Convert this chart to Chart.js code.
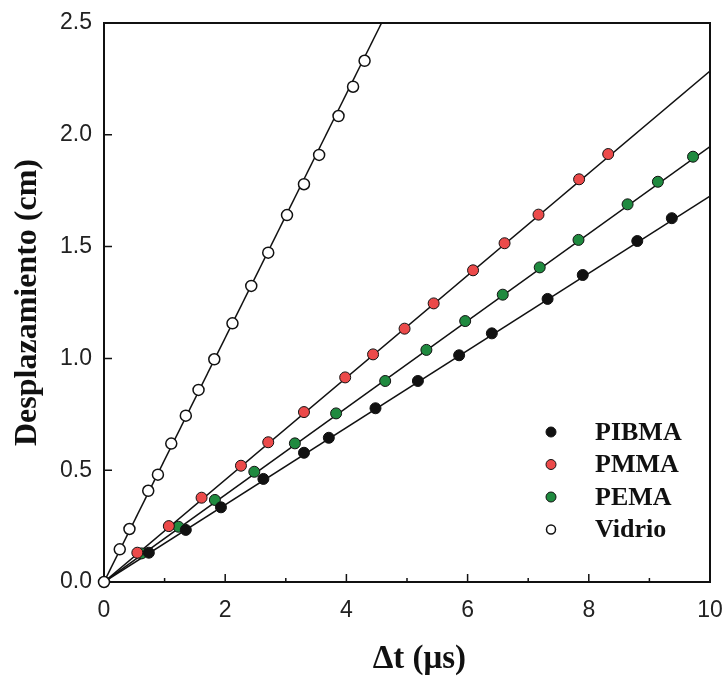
<!DOCTYPE html>
<html>
<head>
<meta charset="utf-8">
<script src="https://cdn.jsdelivr.net/npm/chart.js@4.4.1/dist/chart.umd.min.js"></script>
<style>
  html, body { margin: 0; padding: 0; background: #fff; }
</style>
</head>
<body>
<canvas id="myChart" width="725" height="676"></canvas>
<script>
// values: delta t (us) vs displacement (cm)
var seriesNames = ['PIBMA', 'PMMA', 'PEMA', 'Vidrio'];

var pibmaX = [0.74, 1.35, 1.93, 2.63, 3.30, 3.71, 4.48, 5.18, 5.86, 6.40, 7.32, 7.90, 8.80, 9.37];
var pibmaY = [0.131, 0.233, 0.334, 0.461, 0.578, 0.645, 0.777, 0.899, 1.014, 1.112, 1.266, 1.373, 1.525, 1.627];

var pmmaX = [0.55, 1.07, 1.61, 2.26, 2.71, 3.30, 3.98, 4.44, 4.96, 5.44, 6.09, 6.61, 7.17, 7.84, 8.32];
var pmmaY = [0.131, 0.250, 0.377, 0.520, 0.625, 0.760, 0.915, 1.018, 1.133, 1.246, 1.394, 1.515, 1.643, 1.801, 1.914];

var pemaX = [0.62, 1.23, 1.83, 2.48, 3.15, 3.83, 4.64, 5.32, 5.96, 6.58, 7.19, 7.83, 8.64, 9.14, 9.72];
var pemaY = [0.128, 0.247, 0.367, 0.493, 0.620, 0.754, 0.899, 1.038, 1.167, 1.285, 1.407, 1.530, 1.689, 1.790, 1.902];

var vidrioX = [0, 0.26, 0.42, 0.73, 0.89, 1.11, 1.35, 1.56, 1.82, 2.12, 2.43, 2.71, 3.02, 3.30, 3.55, 3.87, 4.11, 4.30];
var vidrioY = [0, 0.146, 0.237, 0.408, 0.480, 0.619, 0.744, 0.859, 0.996, 1.157, 1.324, 1.473, 1.641, 1.779, 1.910, 2.084, 2.215, 2.331];

// fitted straight lines from the origin, end point of each (same order as seriesNames)
var fitEndX = [10, 10, 10, 4.58];
var fitEndY = [1.726, 2.285, 1.947, 2.5];

var fillColors = ['#111111', '#ec4a4a', '#1f8a3f', '#ffffff'];

function toPoints(xs, ys) {
  return xs.map(function(x, i) { return { x: x, y: ys[i] }; });
}

var pointSets = [
  toPoints(pibmaX, pibmaY),
  toPoints(pmmaX, pmmaY),
  toPoints(pemaX, pemaY),
  toPoints(vidrioX, vidrioY)
];

var datasets = [];
seriesNames.forEach(function(name, i) {
  datasets.push({
    label: name,
    data: pointSets[i],
    showLine: false,
    pointRadius: 5.5,
    pointHoverRadius: 5.5,
    pointBackgroundColor: fillColors[i],
    pointBorderColor: '#111',
    pointBorderWidth: i === 3 ? 1.5 : 1,
    clip: false,
    order: 0
  });
});
seriesNames.forEach(function(name, i) {
  datasets.push({
    label: name + ' fit',
    data: [{ x: 0, y: 0 }, { x: fitEndX[i], y: fitEndY[i] }],
    showLine: true,
    borderColor: '#111',
    borderWidth: 1.5,
    pointRadius: 0,
    clip: 0,
    order: 1
  });
});

// frame, inward tick marks and the boxed-in legend
var frameAndLegend = {
  id: 'frameAndLegend',
  beforeDatasetsDraw: function(chart) {
    var ctx = chart.ctx;
    var a = chart.chartArea;
    var xs = chart.scales.x, ys = chart.scales.y;
    ctx.save();
    ctx.strokeStyle = '#111';
    ctx.lineWidth = 1.5;
    ctx.beginPath();
    var xt = xs.ticks.map(function(t) { return t.value; });
    xt.forEach(function(v, i) {
      var px = xs.getPixelForValue(v);
      ctx.moveTo(px, a.bottom);
      ctx.lineTo(px, a.bottom - 8);
      if (i < xt.length - 1) {
        var mx = xs.getPixelForValue((v + xt[i + 1]) / 2);
        ctx.moveTo(mx, a.bottom);
        ctx.lineTo(mx, a.bottom - 4);
      }
    });
    ys.ticks.forEach(function(t) {
      var py = ys.getPixelForValue(t.value);
      ctx.moveTo(a.left, py);
      ctx.lineTo(a.left + 8, py);
    });
    ctx.stroke();
    ctx.lineWidth = 2;
    ctx.strokeRect(a.left, a.top, a.right - a.left, a.bottom - a.top);
    ctx.restore();
  },
  afterDraw: function(chart) {
    var ctx = chart.ctx;
    var a = chart.chartArea;
    var markerX = a.right - 159;
    var textX = a.right - 115;
    var rowY = a.bottom - 150;
    ctx.save();
    ctx.font = 'bold 26px "Liberation Serif", "Times New Roman", serif';
    ctx.textBaseline = 'middle';
    ctx.textAlign = 'left';
    seriesNames.forEach(function(name, i) {
      var y = rowY + i * 32.5;
      ctx.beginPath();
      ctx.arc(markerX, y, i === 3 ? 4.5 : 5, 0, Math.PI * 2);
      ctx.fillStyle = fillColors[i];
      ctx.fill();
      ctx.lineWidth = i === 3 ? 1.5 : 1;
      ctx.strokeStyle = '#111';
      ctx.stroke();
      ctx.fillStyle = '#111';
      ctx.fillText(name, textX, y + 1);
    });
    ctx.restore();
  }
};

var ctx = document.getElementById('myChart');

var myChart = new Chart(ctx, {
  type: 'scatter',
  data: { datasets: datasets },
  options: {
    responsive: false,
    animation: false,
    events: [],
    layout: { padding: { top: 23, right: 15, left: 0, bottom: 0 } },
    plugins: {
      legend: { display: false },
      tooltip: { enabled: false }
    },
    scales: {
      x: {
        type: 'linear',
        min: 0,
        max: 10,
        grid: { display: false, drawTicks: false },
        border: { display: false },
        ticks: {
          stepSize: 2,
          padding: 15,
          color: '#222',
          font: { family: 'Liberation Sans', size: 23 },
          callback: function(v) { return v.toFixed(0); }
        },
        title: {
          display: true,
          text: '\u00a0\u00a0\u00a0Δt (μs)',
          color: '#111',
          padding: { top: 0, bottom: 0 },
          font: { family: 'Liberation Serif', weight: 'bold', size: 33, lineHeight: 1 }
        },
        afterFit: function(s) {
          s.height = 94;
          s.paddingLeft = 0;
          s.paddingRight = 0;
        }
      },
      y: {
        type: 'linear',
        min: 0,
        max: 2.5,
        grid: { display: false, drawTicks: false },
        border: { display: false },
        ticks: {
          stepSize: 0.5,
          padding: 12,
          color: '#222',
          font: { family: 'Liberation Sans', size: 23 },
          callback: function(v) { return v.toFixed(1); }
        },
        title: {
          display: true,
          text: 'Desplazamiento (cm)',
          color: '#111',
          padding: { top: 12, bottom: 0 },
          font: { family: 'Liberation Serif', weight: 'bold', size: 32, lineHeight: 1 }
        },
        afterFit: function(s) {
          s.width = 104;
          s.paddingTop = 0;
          s.paddingBottom = 0;
        }
      }
    }
  },
  plugins: [frameAndLegend]
});
</script>
</body>
</html>
